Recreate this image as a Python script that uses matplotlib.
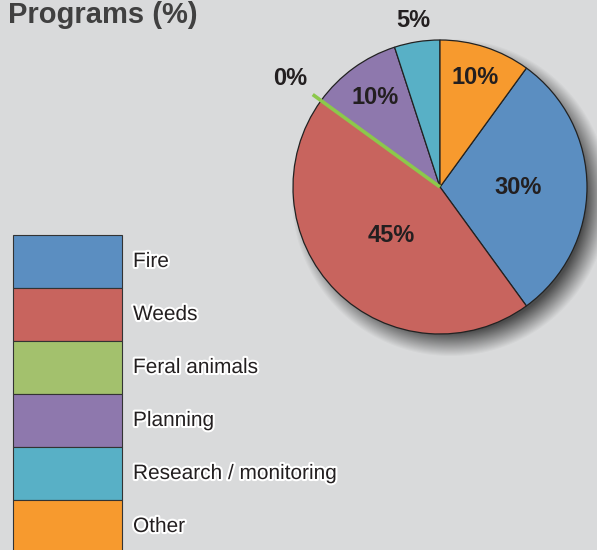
import numpy as np
import matplotlib.pyplot as plt
import matplotlib.patheffects as pe
from matplotlib.patches import Rectangle

plt.rcParams['font.family'] = ['Liberation Sans', 'DejaVu Sans']

# data
programs = ["Fire", "Weeds", "Feral animals", "Planning", "Research / monitoring", "Other"]
percent = [30, 45, 0, 10, 5, 10]
colors = ["#5b8ec1", "#c8645e", "#a3c16d", "#8e78ad", "#58b0c6", "#f79a2e"]
label_r = [0.53, 0.47, 1.26, 0.75, 1.15, 0.78]   # label distance from centre (x radius)

bg = "#d9dadb"
W, H = 597, 550
fig = plt.figure(figsize=(W / 100, H / 100), dpi=100, facecolor=bg)
ax = fig.add_axes([0, 0, 1, 1])
ax.set_xlim(0, W)
ax.set_ylim(0, H)
ax.set_aspect("equal")
ax.axis("off")
ax.set_facecolor(bg)

cx, cy, r = 440, H - 187, 147
start = 90 - 360 * percent[-1] / sum(percent)   # "Other" sits right of 12 o'clock

# soft drop shadow
yy, xx = np.mgrid[0:H, 0:W]
d = np.hypot(xx - (cx + 10), yy - (cy - 11))
blur = 12
alpha = np.clip((r + blur - d) / (2 * blur), 0, 1) * 0.65
shadow = np.zeros((H, W, 4))
shadow[..., 3] = alpha
ax.imshow(shadow, extent=(0, W, 0, H), origin="lower", zorder=1)

wedges, _ = ax.pie(percent, colors=colors, startangle=start, counterclock=False,
                   center=(cx, cy), radius=r, frame=True,
                   wedgeprops=dict(edgecolor="#222222", linewidth=0.9))
for w in wedges:
    w.set_zorder(2)
ax.set_xlim(0, W)
ax.set_ylim(0, H)
ax.axis("off")

# percent labels and the zero-width wedge line
cum = np.concatenate([[0], np.cumsum(percent)])
for i, p in enumerate(percent):
    mid = np.deg2rad(start - 360 * (cum[i] + p / 2) / sum(percent))
    ax.text(cx + label_r[i] * r * np.cos(mid), cy + label_r[i] * r * np.sin(mid),
            f"{p}%", ha="center", va="center", fontsize=17, fontweight="bold",
            color="#231f20", zorder=4)
    if p == 0:
        a = np.deg2rad(start - 360 * cum[i] / sum(percent))
        ax.plot([cx, cx + 1.07 * r * np.cos(a)], [cy, cy + 1.07 * r * np.sin(a)],
                color="#8cc84b", lw=2.6, solid_capstyle="butt", zorder=3)

# legend as a column of boxes
box_top, box_h = H - 235, 53
for i, name in enumerate(programs):
    y0 = box_top - (i + 1) * box_h
    ax.add_patch(Rectangle((13, y0), 109, box_h, facecolor=colors[i],
                           edgecolor="#333333", linewidth=0.8, zorder=2))
    ax.text(133, y0 + box_h / 2, name, ha="left", va="center", fontsize=15,
            color="#231f20", zorder=4,
            path_effects=[pe.withStroke(linewidth=3, foreground="white")])

ax.text(8, H - 23, "Programs (%)", ha="left", va="baseline", fontsize=21,
        fontweight="bold", color="#404040")

fig.savefig("out.png", dpi=100, facecolor=bg)
